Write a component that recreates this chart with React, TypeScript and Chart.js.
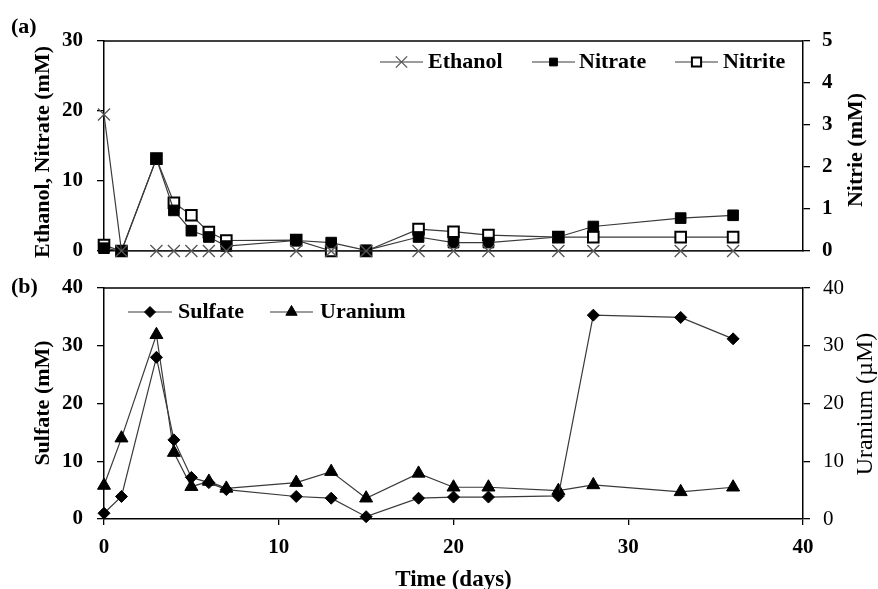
import React, { useEffect, useRef } from 'react';
import { Chart, registerables } from 'chart.js';
import { drawPoint } from 'chart.js/helpers';

Chart.register(...registerables);

// ---- data ----
const days = [0, 1, 3, 4, 5, 6, 7, 11, 13, 15, 18, 20, 22, 26, 28, 33, 36];
const ethanol = [19.5, 0, 0, 0, 0, 0, 0, 0, 0, 0, 0, 0, 0, 0, 0, 0, 0];
const nitrate = [0.4, 0, 13.2, 5.8, 2.9, 2.0, 0.7, 1.5, 1.2, 0.1, 2.0, 1.2, 1.2, 2.0, 3.5, 4.7, 5.1];
const nitrite = [0.14, 0, 2.2, 1.15, 0.85, 0.45, 0.25, 0.26, 0, 0, 0.52, 0.46, 0.38, 0.33, 0.33, 0.33, 0.33];
const sulfate = [1.0, 3.9, 28.0, 13.7, 7.2, 6.3, 5.1, 3.9, 3.6, 0.4, 3.6, 3.8, 3.8, 4.0, 35.3, 34.9, 31.2];
const uranium = [5.8, 14.0, 31.9, 11.5, 5.6, 6.5, 5.3, 6.3, 8.2, 3.6, 7.9, 5.5, 5.5, 4.9, 5.9, 4.7, 5.5];

const xTicks = [0, 10, 20, 30, 40];

const FONT = '"Liberation Serif", "Times New Roman", serif';
const LINE = '#3a3a3a';

const pts = (ys: number[]) => days.map((d, i) => ({ x: d, y: ys[i] }));

type TextItem = { text: string; x: number; y: number; rot?: number; weight?: string; size?: number; align?: CanvasTextAlign };
type LegendItem = { label: string; x1: number; x2: number; tx: number; y: number; style: string; radius: number; fill: string; stroke: string; bw: number };

function makeOverlay(legend: LegendItem[], texts: TextItem[]) {
  return {
    id: 'overlay',
    afterDraw(chart: any) {
      const ctx: CanvasRenderingContext2D = chart.ctx;
      const { left, right, top } = chart.chartArea;
      ctx.save();
      ctx.strokeStyle = '#000';
      ctx.lineWidth = 1.5;
      ctx.beginPath();
      ctx.moveTo(left, top);
      ctx.lineTo(right, top);
      ctx.stroke();
      for (const it of legend) {
        ctx.strokeStyle = LINE;
        ctx.lineWidth = 1.2;
        ctx.beginPath();
        ctx.moveTo(it.x1, it.y);
        ctx.lineTo(it.x2, it.y);
        ctx.stroke();
        ctx.fillStyle = it.fill;
        ctx.strokeStyle = it.stroke;
        ctx.lineWidth = it.bw;
        drawPoint(ctx, { pointStyle: it.style as any, radius: it.radius, rotation: 0, borderWidth: it.bw }, (it.x1 + it.x2) / 2, it.y);
        ctx.fillStyle = '#000';
        ctx.font = `bold 22px ${FONT}`;
        ctx.textAlign = 'left';
        ctx.textBaseline = 'middle';
        ctx.fillText(it.label, it.tx, it.y);
      }
      for (const t of texts) {
        ctx.save();
        ctx.translate(t.x, t.y);
        if (t.rot) ctx.rotate(t.rot);
        ctx.fillStyle = '#000';
        ctx.font = `${t.weight ?? 'bold'} ${t.size ?? 22}px ${FONT}`;
        ctx.textAlign = t.align ?? 'center';
        ctx.textBaseline = 'middle';
        ctx.fillText(t.text, 0, 0);
        ctx.restore();
      }
      ctx.restore();
    },
  };
}

const tickFont = (weight: string) => ({ family: FONT, size: 21, weight: weight as any });
const border = { display: true, color: '#000', width: 1.5 };
const yGrid = { display: true, drawOnChartArea: false, drawTicks: true, tickLength: 7, color: '#000', lineWidth: 1.3 };

const W = 878;
const TOP_H = 265;
const BOT_H = 589 - TOP_H;

const fixY = (w: number) => (s: any) => {
  s.width = w;
  s.paddingTop = 0;
  s.paddingBottom = 0;
};
const fixX = (h: number) => (s: any) => {
  s.height = h;
  s.paddingLeft = 0;
  s.paddingRight = 0;
};

export default function App() {
  const topRef = useRef<HTMLCanvasElement>(null);
  const botRef = useRef<HTMLCanvasElement>(null);

  useEffect(() => {
    const topChart = new Chart(topRef.current!, {
      type: 'line',
      data: {
        datasets: [
          {
            label: 'Ethanol', data: pts(ethanol), yAxisID: 'y', order: 1,
            borderColor: LINE, borderWidth: 1.2, pointStyle: 'crossRot', pointRadius: 8.5,
            pointBorderColor: '#555', pointBorderWidth: 1.3, pointBackgroundColor: '#555', clip: false as any,
          },
          {
            label: 'Nitrite', data: pts(nitrite), yAxisID: 'y1', order: 3,
            borderColor: LINE, borderWidth: 1.2, pointStyle: 'rect', pointRadius: 7.5,
            pointBorderColor: '#000', pointBorderWidth: 2, pointBackgroundColor: '#fff', clip: false as any,
          },
          {
            label: 'Nitrate', data: pts(nitrate), yAxisID: 'y', order: 2,
            borderColor: LINE, borderWidth: 1.2, pointStyle: 'rect', pointRadius: 7.5,
            pointBorderColor: '#000', pointBorderWidth: 1, pointBackgroundColor: '#000', clip: false as any,
          },
        ],
      },
      options: {
        responsive: false,
        animation: false,
        events: [],
        layout: { padding: { top: 41, left: 0, right: 0, bottom: 0 } },
        plugins: { legend: { display: false }, tooltip: { enabled: false } },
        scales: {
          x: {
            type: 'linear', min: 0, max: 40,
            ticks: { display: false },
            grid: { display: false },
            border,
            afterFit: fixX(TOP_H - 251),
          },
          y: {
            position: 'left', min: 0, max: 30,
            ticks: { stepSize: 10, font: tickFont('bold'), color: '#000', padding: 14 },
            grid: yGrid, border,
            afterFit: fixY(104),
          },
          y1: {
            position: 'right', min: 0, max: 5,
            ticks: { stepSize: 1, font: tickFont('bold'), color: '#000', padding: 12 },
            grid: yGrid, border,
            afterFit: fixY(W - 803),
          },
        },
      },
      plugins: [
        makeOverlay(
          [
            { label: 'Ethanol', x1: 380, x2: 423, tx: 428, y: 62, style: 'crossRot', radius: 8, fill: '#555', stroke: '#555', bw: 1.3 },
            { label: 'Nitrate', x1: 532, x2: 575, tx: 579, y: 62, style: 'rect', radius: 5.5, fill: '#000', stroke: '#000', bw: 1 },
            { label: 'Nitrite', x1: 675, x2: 718, tx: 723, y: 62, style: 'rect', radius: 6.5, fill: '#fff', stroke: '#000', bw: 2 },
          ],
          [
            { text: '(a)', x: 11, y: 27, align: 'left' },
            { text: 'Ethanol, Nitrate (mM)', x: 43, y: 258, rot: -Math.PI / 2, align: 'left' },
            { text: 'Nitrie (mM)', x: 856, y: 150, rot: -Math.PI / 2 },
          ],
        ),
      ],
    } as any);

    const botChart = new Chart(botRef.current!, {
      type: 'line',
      data: {
        datasets: [
          {
            label: 'Sulfate', data: pts(sulfate), yAxisID: 'y', order: 1,
            borderColor: LINE, borderWidth: 1.2, pointStyle: 'rectRot', pointRadius: 6,
            pointBorderColor: '#000', pointBorderWidth: 1, pointBackgroundColor: '#000', clip: false as any,
          },
          {
            label: 'Uranium', data: pts(uranium), yAxisID: 'y1', order: 2,
            borderColor: LINE, borderWidth: 1.2, pointStyle: 'triangle', pointRadius: 7.5,
            pointBorderColor: '#000', pointBorderWidth: 1, pointBackgroundColor: '#000', clip: false as any,
          },
        ],
      },
      options: {
        responsive: false,
        animation: false,
        events: [],
        layout: { padding: { top: 288 - TOP_H, left: 0, right: 0, bottom: 0 } },
        plugins: { legend: { display: false }, tooltip: { enabled: false } },
        scales: {
          x: {
            type: 'linear', min: 0, max: 40,
            afterBuildTicks: (s: any) => { s.ticks = xTicks.map((v) => ({ value: v })); },
            ticks: { font: tickFont('bold'), color: '#000', padding: 10, maxRotation: 0 },
            grid: { display: true, drawOnChartArea: false, drawTicks: true, tickLength: 6, color: '#000', lineWidth: 1.3 },
            border,
            afterFit: fixX(BOT_H - (519 - TOP_H)),
          },
          y: {
            position: 'left', min: 0, max: 40,
            ticks: { stepSize: 10, font: tickFont('bold'), color: '#000', padding: 14 },
            grid: yGrid, border,
            afterFit: fixY(104),
          },
          y1: {
            position: 'right', min: 0, max: 40,
            ticks: { stepSize: 10, font: tickFont('normal'), color: '#000', padding: 13 },
            grid: yGrid, border,
            afterFit: fixY(W - 803),
          },
        },
      },
      plugins: [
        makeOverlay(
          [
            { label: 'Sulfate', x1: 128, x2: 172, tx: 178, y: 312 - TOP_H, style: 'rectRot', radius: 5.5, fill: '#000', stroke: '#000', bw: 1 },
            { label: 'Uranium', x1: 270, x2: 313, tx: 320, y: 312 - TOP_H, style: 'triangle', radius: 6.5, fill: '#000', stroke: '#000', bw: 1 },
          ],
          [
            { text: '(b)', x: 11, y: 287 - TOP_H, align: 'left' },
            { text: 'Sulfate (mM)', x: 43, y: 403 - TOP_H, rot: -Math.PI / 2 },
            { text: 'Uranium (µM)', x: 866, y: 404 - TOP_H, rot: -Math.PI / 2, weight: 'normal', size: 24 },
            { text: 'Time (days)', x: 453.5, y: 580 - TOP_H, size: 23 },
          ],
        ),
      ],
    } as any);

    return () => {
      topChart.destroy();
      botChart.destroy();
    };
  }, []);

  return (
    <div style={{ position: 'fixed', left: 0, top: 0, width: W, height: 589, background: '#fff' }}>
      <canvas ref={topRef} width={W} height={TOP_H} style={{ position: 'absolute', left: 0, top: 0, width: W, height: TOP_H }} />
      <canvas ref={botRef} width={W} height={BOT_H} style={{ position: 'absolute', left: 0, top: TOP_H, width: W, height: BOT_H }} />
    </div>
  );
}
